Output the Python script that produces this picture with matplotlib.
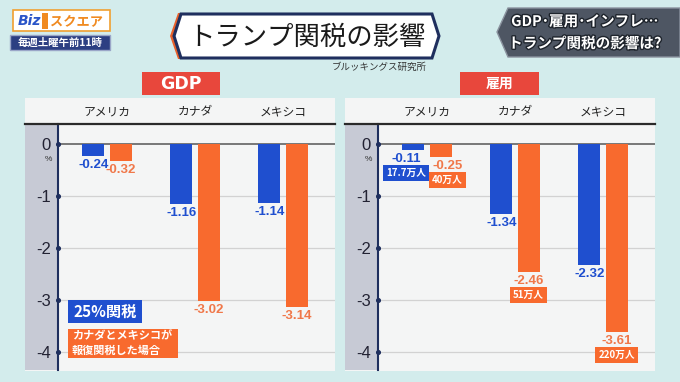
import matplotlib
matplotlib.use("Agg")
import matplotlib.pyplot as plt
from matplotlib.patches import Polygon, Rectangle
from matplotlib.lines import Line2D
import matplotlib.patheffects as pe

plt.rcParams['font.family'] = ['Noto Sans CJK JP', 'DejaVu Sans']

countries = ['アメリカ', 'カナダ', 'メキシコ']
gdp_tariff = [-0.24, -1.16, -1.14]
gdp_retal = [-0.32, -3.02, -3.14]
emp_tariff = [-0.11, -1.34, -2.32]
emp_retal = [-0.25, -2.46, -3.61]
emp_jobs_tariff = ['17.7万人', None, None]
emp_jobs_retal = ['40万人', '51万人', '220万人']
yticks = [0, -1, -2, -3, -4]

BLUE = '#1f4fcf'
ORANGE = '#f86a2e'
ORANGE_TXT = '#f0784a'
NAVY = '#1f2f5e'
BG = '#d3ecec'
NUM_FONT = ['Liberation Sans', 'DejaVu Sans']
W, H = 680, 382

fig = plt.figure(figsize=(6.8, 3.82), dpi=100)
fig.patch.set_facecolor(BG)


def P(x, y):
    return (x / W, 1 - y / H)


def rect(x0, y0, x1, y1, z=1, **kw):
    r = Rectangle(P(x0, y1), (x1 - x0) / W, (y1 - y0) / H,
                  transform=fig.transFigure, zorder=z, **kw)
    fig.patches.append(r)
    return r


def poly(pts, **kw):
    p = Polygon([P(x, y) for x, y in pts], closed=True,
                transform=fig.transFigure, **kw)
    fig.patches.append(p)
    return p


# logo
rect(13, 10, 110, 31, facecolor='white', edgecolor='#f0a030', lw=1.2)
fig.text(*P(18, 21), 'Biz', color='#2a55c8', fontsize=10, fontweight='bold',
         fontstyle='italic', family=['DejaVu Sans'], va='center', ha='left')
rect(42, 13, 48, 29, facecolor='#f08a20', edgecolor='none')
fig.text(*P(50, 21), 'スクエア', color='#f08a20', fontsize=9.5,
         fontweight='bold', va='center', ha='left')
rect(10, 35, 110, 50, facecolor='#2c3f82', edgecolor='#9aa6c8', lw=1)
fig.text(*P(60, 42.5), '毎週土曜午前11時', color='white', fontsize=7.5,
         fontweight='bold', va='center', ha='center')

# title plate
poly([(170, 36), (178, 13), (183, 13), (176, 36), (183, 59), (178, 59)],
     facecolor='#e8602a', edgecolor='none')
poly([(174, 36), (181, 14), (432, 14), (439, 36), (432, 58), (181, 58)],
     facecolor='white', edgecolor=NAVY, lw=2.2)
fig.text(*P(307, 37), 'トランプ関税の影響', fontsize=19, color='#1a1a1a',
         va='center', ha='center')
fig.text(*P(427, 67), 'ブルッキングス研究所', fontsize=6.8, color='#333333',
         va='center', ha='right')

# top right caption
poly([(497, 32), (508, 8), (680, 8), (680, 57), (508, 57)],
     facecolor='#4e5663', edgecolor='#8a929e', lw=1)
stroke = [pe.withStroke(linewidth=2, foreground='#1e242c')]
fig.text(*P(585, 21), 'GDP･雇用･インフレ…', fontsize=10.5, color='white',
         fontweight='bold', va='center', ha='center', path_effects=stroke)
fig.text(*P(585, 43), 'トランプ関税の影響は?', fontsize=10.5, color='white',
         fontweight='bold', va='center', ha='center', path_effects=stroke)

# section labels
rect(142, 72, 220, 95, facecolor='#e8473c', edgecolor='none')
fig.text(*P(181, 84), 'GDP', fontsize=12.5, color='white', fontweight='bold',
         family=['DejaVu Sans'], va='center', ha='center')
rect(460, 72, 539, 95, facecolor='#e8473c', edgecolor='none')
fig.text(*P(499.5, 84), '雇用', fontsize=10, color='white', fontweight='bold',
         va='center', ha='center')

Y_TOP, Y_BOT = 124, 370
YLIM = (-4.346, 0.385)
XLIM = (-0.556, 2.59)
OFF = 0.155
BW = 0.25


def panel(x0, xaxis, x1, tariff, retal, jobs_t, jobs_r):
    # card, gray strip, top rule
    rect(x0, 98, x1, 371, facecolor='#f4f5f5', edgecolor='none')
    rect(x0, Y_TOP, xaxis, Y_BOT, facecolor='#c7cad5', edgecolor='none')
    fig.lines.append(Line2D([x0 / W, x1 / W], [1 - Y_TOP / H] * 2,
                            transform=fig.transFigure, color='#2a2a2a', lw=1.6))

    ax = fig.add_axes([xaxis / W, 1 - Y_BOT / H, (x1 - xaxis) / W,
                       (Y_BOT - Y_TOP) / H])
    ax.set_zorder(2)
    ax.patch.set_alpha(0)
    ax.set_xlim(*XLIM)
    ax.set_ylim(*YLIM)
    for s in ['top', 'right', 'bottom']:
        ax.spines[s].set_visible(False)
    ax.spines['left'].set_color(NAVY)
    ax.spines['left'].set_linewidth(1.5)
    ax.set_xticks([])
    ax.set_yticks(yticks)
    ax.set_yticklabels([str(t) for t in yticks], family=NUM_FONT)
    ax.tick_params(axis='y', length=0, pad=5, labelsize=12, labelcolor='#222233')
    for t in yticks:
        ax.axhline(t, color='#555555' if t == 0 else '#d2d2d2',
                   lw=1.1 if t == 0 else 0.9, zorder=1)
    ax.scatter([XLIM[0]] * len(yticks), yticks, s=7, color=NAVY,
               clip_on=False, zorder=5)
    ax.annotate('%', (XLIM[0], 0), xytext=(-10, -15), textcoords='offset pixels',
                fontsize=6, color='#333333', ha='center', va='center',
                family=NUM_FONT, annotation_clip=False)

    xs = range(len(countries))
    ax.bar([x - OFF for x in xs], tariff, width=BW, color=BLUE, zorder=3)
    ax.bar([x + OFF for x in xs], retal, width=BW, color=ORANGE, zorder=3)

    for i, name in enumerate(countries):
        ax.text(i, 0.62, name, ha='center', va='center', fontsize=8.5,
                color='#222222', clip_on=False)

    for side, (vals, jobs, col, tcol, dx) in enumerate(
            [(tariff, jobs_t, BLUE, BLUE, -OFF),
             (retal, jobs_r, ORANGE, ORANGE_TXT, OFF)]):
        for i, v in enumerate(vals):
            # push the two labels apart when both bars of a group carry a box
            both = jobs_t is not None and jobs_r is not None \
                and jobs_t[i] and jobs_r[i]
            nudge = (-7 if side == 0 else 7) if both else 0
            ax.annotate(f'{v:.2f}', (i + dx, v), xytext=(nudge, -3),
                        textcoords='offset pixels', ha='center', va='top',
                        fontsize=9.5, fontweight='bold', color=tcol,
                        family=NUM_FONT, annotation_clip=False)
            if jobs is not None and jobs[i]:
                ax.annotate(jobs[i], (i + dx, v), xytext=(nudge, -23),
                            textcoords='offset pixels', ha='center',
                            va='center', fontsize=7, fontweight='bold',
                            color='white', annotation_clip=False,
                            bbox=dict(boxstyle='square,pad=0.3', fc=col,
                                      ec='none'))
    return ax


ax1 = panel(25, 58, 335, gdp_tariff, gdp_retal, None, None)
ax2 = panel(345, 378, 655, emp_tariff, emp_retal, emp_jobs_tariff, emp_jobs_retal)

# legend boxes in left panel
rect(68, 300, 142, 323, z=4, facecolor=BLUE, edgecolor='none')
fig.text(*P(105, 311.5), '25%関税', fontsize=11, color='white', zorder=5,
         fontweight='bold', va='center', ha='center')
rect(68, 329, 178, 358, z=4, facecolor=ORANGE, edgecolor='none')
fig.text(*P(72, 343.5), 'カナダとメキシコが\n報復関税した場合', fontsize=8,
         color='white', fontweight='bold', va='center', ha='left',
         linespacing=1.15, zorder=5)

fig.savefig('out.png', dpi=100, facecolor=fig.get_facecolor())
